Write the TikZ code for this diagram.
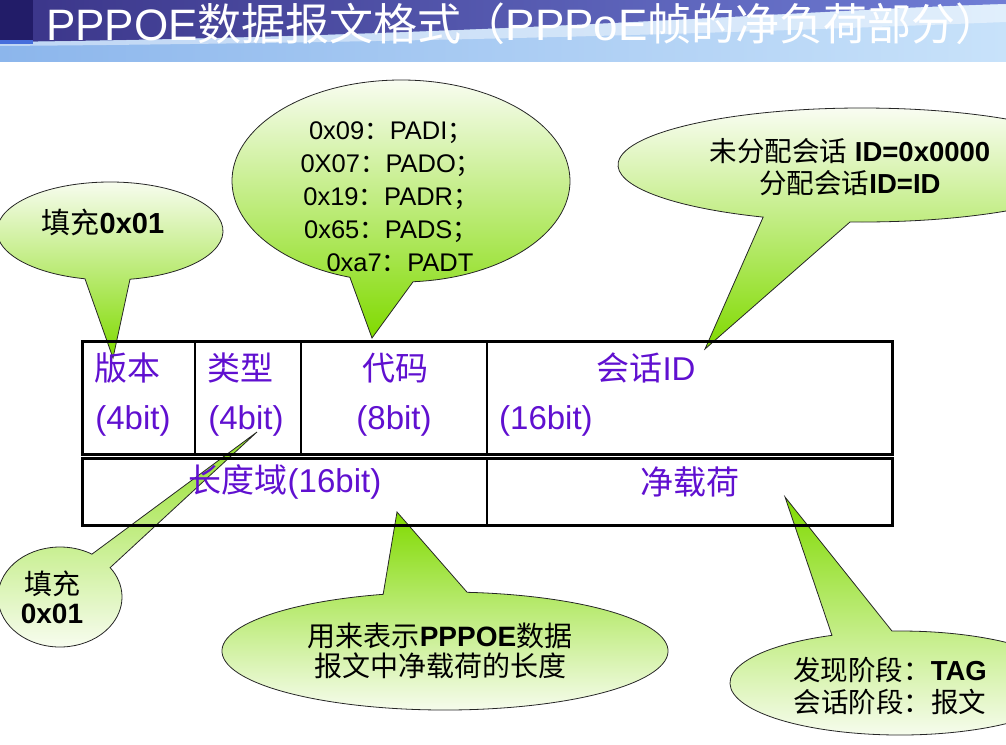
\documentclass[tikz,border=0pt]{standalone}
\usepackage{fontspec}
\setmainfont{Liberation Sans}
\newfontfamily\cjk{Noto Sans CJK SC}
\usetikzlibrary{calc}
\definecolor{fieldc}{RGB}{96,16,208}
\definecolor{pale}{RGB}{250,253,244}
\definecolor{lgreen}{RGB}{128,218,0}
\definecolor{navyA}{RGB}{58,52,136}
\definecolor{blueB}{RGB}{112,126,214}
\definecolor{skyA}{RGB}{140,182,236}
\definecolor{skyB}{RGB}{200,226,250}
\definecolor{navyD}{RGB}{34,28,104}
\definecolor{stripe}{RGB}{70,110,220}
\newcommand{\bubble}[9]{%
  \path[bubblestyle,#9] (#7,#8) -- ({#1+#3*cos(#5)},{#2+#4*sin(#5)})
    arc[start angle=#5, end angle=#6, x radius=#3, y radius=#4] -- cycle;}
\tikzset{
  bubblestyle/.style={draw=black!85, line width=0.8pt},
  down/.style={top color=pale, middle color=lgreen!14!pale, bottom color=lgreen},
  up/.style={top color=lgreen, middle color=lgreen!14!pale, bottom color=pale},
  field/.style={text=fieldc, font=\fontsize{33}{36}\selectfont, inner sep=0pt},
  note/.style={text=black, font=\fontsize{27.5}{32}\selectfont, align=center, inner sep=0pt},
  outer/.style={line width=3pt},
  inner/.style={line width=1.3pt}
}
\begin{document}
\begin{tikzpicture}[x=1pt,y=1pt]
\useasboundingbox (0,0) rectangle (1006,-744);
% ---- title banner ----
\shade[left color=skyA, right color=skyB] (0,0) rectangle (1006,-61);
\shade[left color=navyA, right color=blueB] (0,0) -- (1006,0) -- (1006,-4)
  .. controls (800,-10) and (500,-36) .. (0,-42) -- cycle;
\fill[white, opacity=0.45] (1006,-4) .. controls (800,-10) and (500,-36) .. (0,-42)
  -- (0,-46) .. controls (500,-42) and (800,-30) .. (1006,-22) -- cycle;
\fill[navyD] (0,0) rectangle (33,-40);
\fill[stripe] (0,-40) rectangle (33,-44);
\node[anchor=base west, text=white, inner sep=0pt, font=\fontsize{44}{47}\selectfont]
  (title) at (46,-40) {PPPOE{\cjk 数据报文格式（}PPPoE{\cjk 帧的净负荷部分）}};
% ---- callouts ----
\bubble{110}{-231}{113}{49}{280.2}{617.2}{113}{-358}{down}
\bubble{401}{-181}{169}{101}{274.1}{612.4}{372}{-338}{down}
\bubble{862}{-165}{244}{57}{267.2}{606.1}{705}{-349}{down}
\bubble{60}{-597}{62}{50}{59}{396}{257}{-432}{up, fill opacity=0.85}
\bubble{445}{-651}{223}{59}{106.1}{444.3}{397}{-512}{up}
\bubble{900}{-683}{170}{52}{113.6}{452.7}{785}{-497}{up}
% ---- callout texts ----
\node[note, font=\fontsize{29}{32}\selectfont] (n1) at (103,-222) {{\cjk 填充}\textbf{0x01}};
\node[note, font=\fontsize{25.5}{33}\selectfont] (n2) at (391,-197)
  {0x09{\cjk ：}PADI{\cjk ；}\\0X07{\cjk ：}PADO{\cjk ；}\\0x19{\cjk ：}PADR{\cjk ；}\\0x65{\cjk ：}PADS{\cjk ；}\\\hspace*{18pt}0xa7{\cjk ：}PADT};
\node[note] (n3) at (850,-167) {{\cjk 未分配会话} \textbf{ID=0x0000}\\{\cjk 分配会话}\textbf{ID=ID}};
\node[note, font=\fontsize{28}{29}\selectfont] (n4) at (52,-597) {{\cjk 填充}\\\textbf{0x01}};
\node[note, font=\fontsize{28}{30}\selectfont] (n5) at (440,-651) {{\cjk 用来表示}\textbf{PPPOE}{\cjk 数据}\\{\cjk 报文中净载荷的长度}};
\node[note] (n6) at (890,-686) {{\cjk 发现阶段：}\textbf{TAG}\\{\cjk 会话阶段：报文}};
% ---- table ----
\draw[outer] (82,-341) rectangle (892,-454);
\draw[outer] (82,-458) rectangle (892,-525);
\draw[inner] (195,-341) -- (195,-454);
\draw[inner] (301,-341) -- (301,-454);
\draw[inner] (487,-341) -- (487,-454);
\draw[inner] (487,-458) -- (487,-525);
\node[field] (ver) at (127,-368) {\cjk 版本};
\node[field] (verb) at (133,-421) {(4bit)};
\node[field] (typ) at (240,-368) {\cjk 类型};
\node[field] (typb) at (246,-421) {(4bit)};
\node[field] (code) at (395,-368) {\cjk 代码};
\node[field] (codeb) at (394,-421) {(8bit)};
\node[field] (sid) at (646,-368) {{\cjk 会话}ID};
\node[field, anchor=west] (sidb) at (499,-421) {(16bit)};
\node[field] (len) at (285,-482) {{\cjk 长度域}(16bit)};
\node[field] (pay) at (690,-482) {\cjk 净载荷};
\end{tikzpicture}
\end{document}
